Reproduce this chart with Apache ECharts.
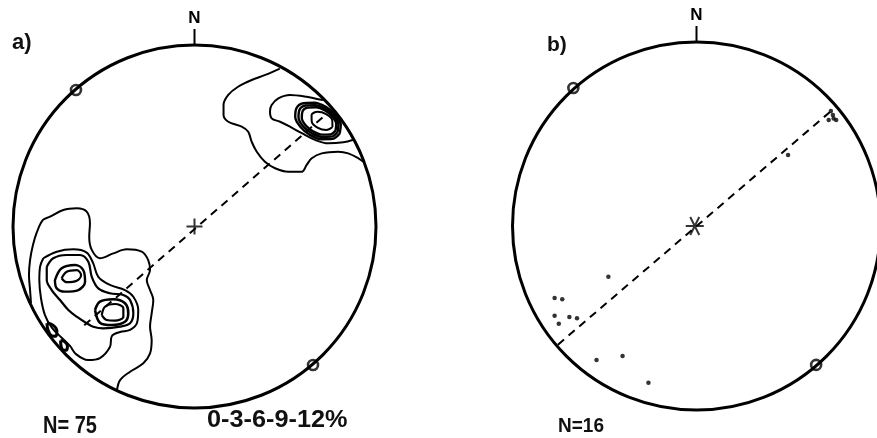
<!DOCTYPE html>
<html>
<head>
<meta charset="utf-8">
<script src="https://cdn.jsdelivr.net/npm/echarts@6/dist/echarts.min.js"></script>
<style>
  html, body { margin: 0; padding: 0; background: #fff; }
  #chart { width: 877px; height: 438px; }
</style>
</head>
<body>
<div id="chart"></div>
<script>
// Equal-area nets. All coordinates are in percent of the net radius:
// x = east, y = north, origin at the centre of the net.

const panelLabels = ['a)', 'b)'];
const countLabels = ['N= 75', 'N=16'];
const contourKey = '0-3-6-9-12%';
const northLabel = 'N';

// ---- Net a: contoured pole density (75 poles) ----
// NE maximum
const aNeLevel1 = [[47,87],[39,83.5],[31.5,80.7],[24,77],[18.6,72.5],[16,67],[16,61.4],[18.6,57.7],[26,55],[29.6,52.2],[31.5,46.7],[34.3,41.2],[38.8,35.7],[44.4,32.1],[51.7,30.2],[59.1,30.2],[61.8,33.9],[64.6,37.6],[70.1,40.3],[79.2,41.2],[84.7,40.3],[90.3,37.6],[93,35.7]];
const aNeLevel2 = [[71.9,69.7],[68.2,70.1],[61.8,71.5],[52.6,72.5],[46.2,70.6],[42.5,66.9],[41.6,63.3],[42.5,59.6],[47.1,57.7],[52.6,55],[59.1,51.4],[66.4,47.7],[73.7,45.8],[82,46.4],[87.5,47.8]];
const aNeLevel3 = [[80,51.2],[76.2,48.3],[70.2,48.1],[63.6,50.5],[58.3,55],[55.5,60.3],[56.1,65],[59.9,67.9],[65.9,68.2],[72.5,65.8],[77.8,61.3],[80.6,56]];
const aNeLevel3b = [[78.8,52.1],[75.5,49.5],[70.2,49.3],[64.5,51.5],[59.7,55.4],[57.3,60],[57.8,64.2],[61.2,66.7],[66.4,66.9],[72.2,64.8],[76.9,60.9],[79.3,56.2]];
const aNeLevel4 = [[77.7,52.9],[74.8,50.7],[70.3,50.6],[65.3,52.4],[61.2,55.8],[59.1,59.8],[59.5,63.4],[62.4,65.5],[66.9,65.7],[71.9,63.9],[76,60.5],[78.1,56.5]];
const aNeLevel5 = [[76,54.8],[72.7,53.1],[68,54.3],[64.6,57.8],[64.5,61.4],[67.8,63.2],[72.5,61.9],[75.9,58.5]];

// SW maximum
const aSwLevel1 = [[-90.1,-42.2],[-90.6,-35],[-91.2,-26.7],[-90.6,-18.5],[-89,-10.2],[-86.8,-3],[-83.5,3.6],[-79.6,5.4],[-72.3,9.1],[-64.9,10],[-59.4,8.2],[-57.6,1.8],[-58,-5.6],[-56.6,-12.9],[-52.1,-17.5],[-44.7,-14.8],[-37.4,-12.6],[-29.1,-13.9],[-25.5,-18.5],[-24.5,-24],[-26.3,-29.5],[-24.5,-35],[-22.7,-40.5],[-23.6,-47.8],[-24.5,-55.2],[-23.6,-62.5],[-24.5,-69.9],[-28.2,-75.4],[-35.5,-80],[-41,-84.6],[-42.7,-90.1]];
const aSwLevel2 = [[-83.3,-17.5],[-75.9,-13.9],[-66.8,-12.6],[-59.4,-14.4],[-55.8,-20.3],[-53,-27.7],[-46.6,-32.2],[-38.3,-35],[-33.7,-38.7],[-31,-46],[-31.7,-53.2],[-35.5,-57],[-41,-58.1],[-45.5,-60.3],[-46.6,-66.4],[-52.1,-72.5],[-58.7,-73.6],[-65.3,-70.3],[-68.6,-65.8],[-73,-61.4],[-78.5,-55.9],[-82.4,-48.8],[-84.6,-39.4],[-85.5,-29.5],[-85.1,-22.2]];
const aSwLevel3 = [[-81.4,-22.2],[-77.8,-17.5],[-70.4,-15.7],[-63.1,-15.7],[-58.5,-19.4],[-56.6,-27.7],[-53,-34.1],[-46.6,-36.8],[-39.2,-37.7],[-35.5,-40.5],[-33.7,-47.8],[-35.5,-53.3],[-41,-55.2],[-50.3,-56.1],[-55.8,-55.2],[-59.4,-53.3],[-64.9,-49.7],[-69.5,-46],[-74.1,-40.5],[-78.7,-35],[-81.4,-29.5]];
const aSwUpperLevel4 = [[-76.9,-29.5],[-73.2,-23],[-65.8,-21.2],[-61.3,-24],[-60.3,-30.4],[-64,-35],[-71.4,-35.9],[-75.9,-34.1]];
const aSwUpperLevel5 = [[-73.2,-28.5],[-70.4,-24.9],[-64.9,-24],[-62.5,-26.7],[-64.9,-29.9],[-70.4,-30.7]];
const aSwLowerLevel4 = [[-54.8,-46],[-52.1,-41.4],[-44.7,-40.1],[-38.3,-42.3],[-36.5,-47.8],[-38.3,-52.5],[-45.6,-54.3],[-52.1,-53]];
const aSwLowerLevel5 = [[-51.1,-48.8],[-49.3,-44.2],[-43.8,-42.7],[-39.2,-45.1],[-39.2,-49.7],[-43.8,-51.9],[-48.4,-51.5]];
const aRimSpot1 = [[-81.3,-53.2],[-78,-54.3],[-75.8,-57.6],[-76.4,-60.4],[-78.5,-60.3],[-80.7,-57]];
const aRimSpot2 = [[-73.8,-62.8],[-71.6,-63.4],[-70,-65.8],[-70.8,-68.2],[-73,-67.5]];

const aDipLine = [[70.5,60],[-62,-55.5]];
const aStrike = [[-65.3,75.2],[65.3,-76.3]];

// ---- Net b: individual poles (16) ----
const bPoles = [[-47.4,-27.6],[-76.9,-39.1],[-72.7,-39.8],[-76.9,-48.8],[-68.8,-49.5],[-64.6,-50.2],[-74.6,-53.1],[-53.9,-72.8],[-39.6,-70.7],[-25.4,-85.2],[51.2,38.6],[75.8,60.3],[73.5,57.6],[77.6,57.6],[74.7,62.5],[76.2,58.4]];
const bDipLine = [[74.2,62],[-75.3,-64.7]];
const bStrike = [[-66.6,75],[66.6,-75.5]];

// ---- Layout of the two nets (pixels) ----
const nets = [
  { center: [194.5, 226.5], radius: 181.5 },
  { center: [696.5, 226], radius: 184 }
];

const chart = echarts.init(document.getElementById('chart'));

function contour(points, netIndex, width, closed) {
  return {
    type: 'line',
    xAxisIndex: netIndex,
    yAxisIndex: netIndex,
    data: closed ? points.concat([points[0]]) : points,
    symbol: 'none',
    smooth: 0.35,
    silent: true,
    z: 3,
    lineStyle: { color: '#000', width: width }
  };
}

function dipLine(points, netIndex) {
  return {
    type: 'line',
    xAxisIndex: netIndex,
    yAxisIndex: netIndex,
    data: points,
    symbol: 'none',
    silent: true,
    z: 3,
    lineStyle: { color: '#000', width: 2, type: [8, 6] }
  };
}

function strikeMarks(points, netIndex) {
  return {
    type: 'scatter',
    xAxisIndex: netIndex,
    yAxisIndex: netIndex,
    data: points,
    symbol: 'circle',
    symbolSize: 10,
    silent: true,
    z: 4,
    itemStyle: { color: 'rgba(0,0,0,0)', borderColor: '#000', borderWidth: 2.6 }
  };
}

function centreMark(path, netIndex, size) {
  return {
    type: 'scatter',
    xAxisIndex: netIndex,
    yAxisIndex: netIndex,
    data: [[0, 0]],
    symbol: path,
    symbolSize: size,
    silent: true,
    z: 4,
    itemStyle: { color: 'rgba(0,0,0,0)', borderColor: '#000', borderWidth: 2 }
  };
}

const series = [
  contour(aNeLevel1, 0, 2, false),
  contour(aNeLevel2, 0, 2, false),
  contour(aNeLevel3, 0, 2.4, true),
  contour(aNeLevel3b, 0, 2.4, true),
  contour(aNeLevel4, 0, 2.4, true),
  contour(aNeLevel5, 0, 2, true),
  contour(aSwLevel1, 0, 2, false),
  contour(aSwLevel2, 0, 2, true),
  contour(aSwLevel3, 0, 2.2, true),
  contour(aSwUpperLevel4, 0, 2.4, true),
  contour(aSwUpperLevel5, 0, 2.2, true),
  contour(aSwLowerLevel4, 0, 2.6, true),
  contour(aSwLowerLevel5, 0, 2.2, true),
  contour(aRimSpot1, 0, 3, true),
  contour(aRimSpot2, 0, 3, true),
  dipLine(aDipLine, 0),
  strikeMarks(aStrike, 0),
  centreMark('path://M0,-1L0,1M-1,0L1,0', 0, 16),
  {
    type: 'scatter',
    xAxisIndex: 1,
    yAxisIndex: 1,
    data: bPoles,
    symbol: 'circle',
    symbolSize: 4.5,
    silent: true,
    z: 4,
    itemStyle: { color: '#000' }
  },
  dipLine(bDipLine, 1),
  strikeMarks(bStrike, 1),
  centreMark('path://M-1,0L1,0M-0.5,-0.87L0.5,0.87M0.5,-0.87L-0.5,0.87', 1, 18)
];

const textFont = '"Liberation Sans", Arial, sans-serif';

const option = {
  animation: false,
  backgroundColor: '#fff',
  polar: nets.map(n => ({ center: n.center, radius: n.radius })),
  angleAxis: nets.map((n, i) => ({
    polarIndex: i,
    type: 'value',
    min: 0,
    max: 360,
    interval: 360,
    startAngle: 90,
    clockwise: true,
    axisLine: { show: true, lineStyle: { color: '#000', width: 3 } },
    axisTick: { show: true, length: 16, lineStyle: { color: '#000', width: 2 } },
    axisLabel: {
      show: true,
      margin: 18,
      color: '#000',
      fontSize: 17,
      fontWeight: 'bold',
      fontFamily: textFont,
      formatter: v => (v === 0 ? northLabel : '')
    },
    splitLine: { show: false }
  })),
  radiusAxis: nets.map((n, i) => ({ polarIndex: i, min: 0, max: 100, show: false })),
  grid: nets.map(n => ({
    left: n.center[0] - n.radius,
    top: n.center[1] - n.radius,
    width: 2 * n.radius,
    height: 2 * n.radius
  })),
  xAxis: nets.map((n, i) => ({ gridIndex: i, type: 'value', min: -100, max: 100, show: false })),
  yAxis: nets.map((n, i) => ({ gridIndex: i, type: 'value', min: -100, max: 100, show: false })),
  graphic: [
    { type: 'text', x: 12, y: 43, style: { text: panelLabels[0], font: 'bold 22px ' + textFont, fill: '#111', textVerticalAlign: 'middle', verticalAlign: 'middle' } },
    { type: 'text', x: 547, y: 45, style: { text: panelLabels[1], font: 'bold 21px ' + textFont, fill: '#111', textVerticalAlign: 'middle', verticalAlign: 'middle' } },
    { type: 'text', x: 43, y: 426, scaleY: 1.18, style: { text: countLabels[0], font: 'bold 20px ' + textFont, fill: '#111', textVerticalAlign: 'middle', verticalAlign: 'middle' } },
    { type: 'text', x: 207, y: 421, scaleX: 1.1, style: { text: contourKey, font: 'bold 23px ' + textFont, fill: '#111', textVerticalAlign: 'middle', verticalAlign: 'middle' } },
    { type: 'text', x: 558, y: 426, scaleY: 1.1, style: { text: countLabels[1], font: 'bold 19px ' + textFont, fill: '#111', textVerticalAlign: 'middle', verticalAlign: 'middle' } }
  ],
  series: series
};

chart.setOption(option);
</script>
</body>
</html>
